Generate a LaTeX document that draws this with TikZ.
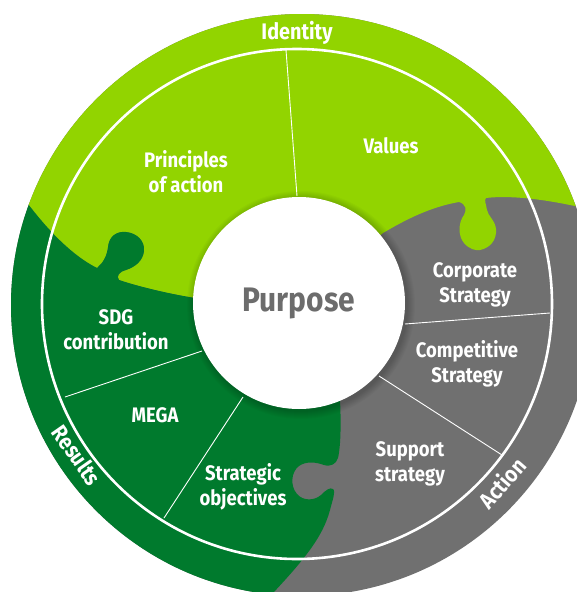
\documentclass[tikz,border=0pt]{standalone}
\usepackage{fontspec}
\setmainfont{Fira Sans}[FakeStretch=0.88]
\definecolor{lgreen}{RGB}{146,212,0}
\definecolor{dgreen}{RGB}{0,122,45}
\definecolor{agray}{RGB}{112,112,112}
\definecolor{pgray}{RGB}{108,108,108}
\begin{document}
\begin{tikzpicture}[x=1pt,y=-1pt,
  lbl/.style={text=white, font=\bfseries\fontsize{21}{25}\selectfont, align=center, inner sep=0pt},
  arclbl/.style={text=white, font=\bfseries\fontsize{22.5}{26}\selectfont, inner sep=0pt},
  sep/.style={draw=white, line width=0.9pt}]
\useasboundingbox (0,0) rectangle (577,592);
\clip (0,0) rectangle (577,592);
% outer disk (gray base)
\fill[agray] (302,305) circle (291);
\begin{scope}
  \clip (302,305) circle (291);
  % light green (Identity)
  \fill[lgreen] (15,186) .. controls (35,215) and (65,252) .. (97,268)
    .. controls (103,263) and (107,256) .. (108,247)
    .. controls (109,236) and (117,231) .. (126,232)
    .. controls (137,233) and (145,241) .. (144,251)
    .. controls (143,261) and (135,267) .. (126,270)
    .. controls (119,272) and (116,276) .. (119,280)
    .. controls (140,287) and (170,294) .. (195,298)
    -- (299,303) -- (383,233)
    .. controls (405,220) and (430,207) .. (459,202)
    .. controls (466,204) and (467,210) .. (464,215)
    .. controls (458,223) and (458,236) .. (464,243)
    .. controls (469,249) and (476,251) .. (480,250)
    .. controls (490,248) and (497,240) .. (496,229)
    .. controls (495,220) and (488,216) .. (487,210)
    .. controls (486,204) and (484,200) .. (486,198)
    .. controls (510,195) and (550,199) .. (600,212)
    -- (620,-20) -- (-20,-20) -- (-20,186) -- cycle;
  % dark green (Results)
  \fill[dgreen] (15,186) .. controls (35,215) and (65,252) .. (97,268)
    .. controls (103,263) and (107,256) .. (108,247)
    .. controls (109,236) and (117,231) .. (126,232)
    .. controls (137,233) and (145,241) .. (144,251)
    .. controls (143,261) and (135,267) .. (126,270)
    .. controls (119,272) and (116,276) .. (119,280)
    .. controls (140,287) and (170,294) .. (195,298)
    -- (299,303) -- (340,400)
    .. controls (341,420) and (341,445) .. (338,458)
    .. controls (336,464) and (331,467) .. (324,465)
    .. controls (316,462) and (306,461) .. (299,466)
    .. controls (291,472) and (290,486) .. (297,494)
    .. controls (303,501) and (314,501) .. (321,495)
    .. controls (326,490) and (330,487) .. (333,489)
    .. controls (336,491) and (332,502) .. (330,510)
    .. controls (322,540) and (300,565) .. (255,612)
    -- (-20,612) -- (-20,186) -- cycle;
  % soft shadow round the centre
  \foreach \r in {107,108,...,114}
    \fill[black, opacity=0.025] (301,305) circle (\r);
\end{scope}
% white centre
\fill[white] (299,303) circle (106);
% ring
\draw[white, line width=2.6pt] (297,304) circle (255);
% separators
\draw[sep] (297,196) -- (286,50);
\draw[sep] (405,324) -- (550,313);
\draw[sep] (379,376) -- (502,455);
\draw[sep] (202,351) -- (65,397);
\draw[sep] (243,397) -- (164,518);
% labels
\node[arclbl] (identity) at (297,33) {Identity};
\node[arclbl, rotate=-55] (results) at (77,455) {Results};
\node[arclbl, rotate=49] (action) at (502,483) {Action};
\node[lbl] (principles) at (186,172) {Principles\\of action};
\node[lbl] (values) at (391,146) {Values};
\node[lbl] (corporate) at (475,285) {Corporate\\Strategy};
\node[lbl] (competitive) at (467,364) {Competitive\\Strategy};
\node[lbl] (support) at (410,464) {Support\\strategy};
\node[lbl] (strategic) at (243,487) {Strategic\\objectives};
\node[lbl] (mega) at (155,415) {MEGA};
\node[lbl] (sdg) at (116,330) {SDG\\contribution};
\node[text=pgray, font=\bfseries\fontsize{34}{37}\selectfont, inner sep=0pt] (purpose) at (299,303) {Purpose};
\end{tikzpicture}
\end{document}
